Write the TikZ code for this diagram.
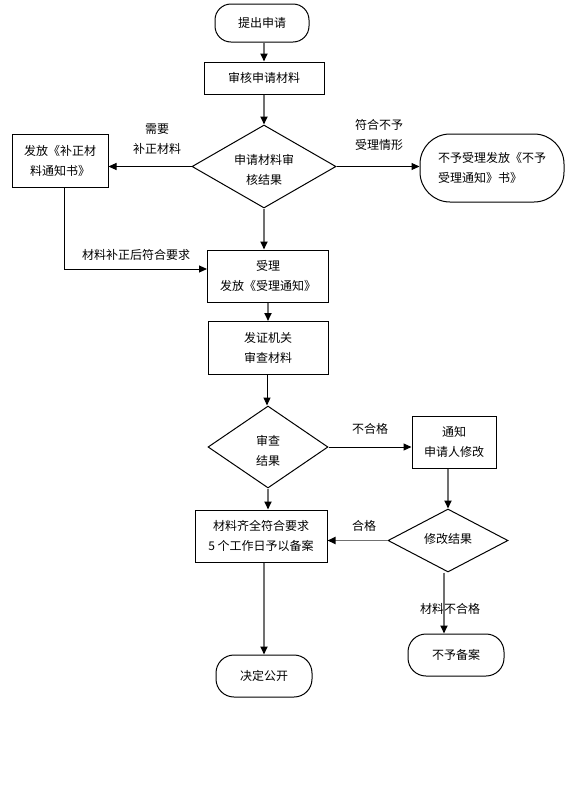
\documentclass[tikz,border=0pt]{standalone}
\usepackage{fontspec}
\newfontfamily\cjk{Noto Sans CJK SC}
\usetikzlibrary{arrows.meta,shapes.geometric}
\definecolor{conn}{RGB}{112,112,112}
\tikzset{
  base/.style={font=\cjk\fontsize{12}{20}\selectfont, inner sep=0pt, align=center},
  boxn/.style={base, draw, line width=1pt, rectangle},
  stad/.style={base, draw, line width=1pt, rectangle, rounded corners=#1},
  dia/.style={draw, line width=1pt, diamond, inner sep=0pt},
  txt/.style={base},
  blk/.style={line width=1pt, draw=black, -{Triangle[length=8pt,width=7pt]}},
  gry/.style={line width=1.8pt, draw=conn, -{Triangle[length=8pt,width=7pt,color=black]}},
  plain/.style={line width=1pt, draw=black}
}
\begin{document}
\begin{tikzpicture}[x=1pt,y=-1pt]
\useasboundingbox[fill=white] (0,0) rectangle (588,801);

% nodes
\node[stad=16pt, minimum width=94pt, minimum height=38pt] (start) at (262,23) {提出申请};
\node[boxn, minimum width=120pt, minimum height=32pt] (check) at (264,78) {审核申请材料};
\node[dia, minimum width=144pt, minimum height=83pt] (d1) at (264,166.5) {};
\node[txt] (d1t) at (264,169.5) {申请材料审\\核结果};
\node[boxn, minimum width=96pt, minimum height=53pt] (bz) at (60,161) {发放《补正材\\料通知书》};
\node[stad=30pt, minimum width=144pt, minimum height=68pt, align=left] (nob) at (492,168) {不予受理发放《不予\\受理通知》书》};
\node[boxn, minimum width=121pt, minimum height=52pt] (acc) at (268,276) {受理\\发放《受理通知》};
\node[boxn, minimum width=120pt, minimum height=53pt] (rev) at (268,348) {发证机关\\审查材料};
\node[dia, minimum width=120pt, minimum height=82pt] (d2) at (268,447) {};
\node[txt] (d2t) at (268,451) {审查\\结果};
\node[boxn, minimum width=84pt, minimum height=52pt] (notify) at (454,442) {通知\\申请人修改};
\node[dia, minimum width=120pt, minimum height=63pt] (d3) at (448,540.5) {};
\node[txt] (d3t) at (448,539) {修改结果};
\node[boxn, minimum width=132pt, minimum height=52pt] (ok) at (261,536) {材料齐全符合要求\\5 个工作日予以备案};
\node[stad=18pt, minimum width=96pt, minimum height=42pt] (pub) at (264,676) {决定公开};
\node[stad=18pt, minimum width=96pt, minimum height=42pt] (nofile) at (456,655) {不予备案};

% labels
\node[txt] (l1) at (157,139) {需要\\补正材料};
\node[txt] (l2) at (379,134.5) {符合不予\\受理情形};
\node[txt] (l3) at (136,255) {材料补正后符合要求};
\node[txt] (l4) at (370,429) {不合格};
\node[txt] (l5) at (364,526) {合格};
\node[txt] (l6) at (450,609) {材料不合格};

% connectors
\draw[gry] (start.south -| check.north) -- (check.north);
\draw[gry] (check.south) -- (d1.north);
\draw[blk] (d1.west) -- (d1.west -| bz.east);
\draw[blk] (d1.east) -- (d1.east -| nob.west);
\draw[gry] (d1.south) -- (d1.south |- acc.north);
\draw[blk] ([xshift=4pt]bz.south) |- ([yshift=7pt]acc.west);
\draw[gry] (acc.south) -- (rev.north);
\draw[blk] ([xshift=-1pt]rev.south) -- ([xshift=-1pt]d2.north);
\draw[blk] (d2.east) -- (d2.east -| notify.west);
\draw[gry] (d3.north |- notify.south) -- (d3.north);
\draw[gry] (d3.west) -- (d3.west -| ok.east);
\draw[gry] (d2.south) -- (d2.south |- ok.north);
\draw[gry] (pub.north |- ok.south) -- (pub.north);
\draw[gry] ([xshift=-4pt]d3.south) -- ([xshift=-4pt]d3.south |- nofile.north);
\end{tikzpicture}
\end{document}
